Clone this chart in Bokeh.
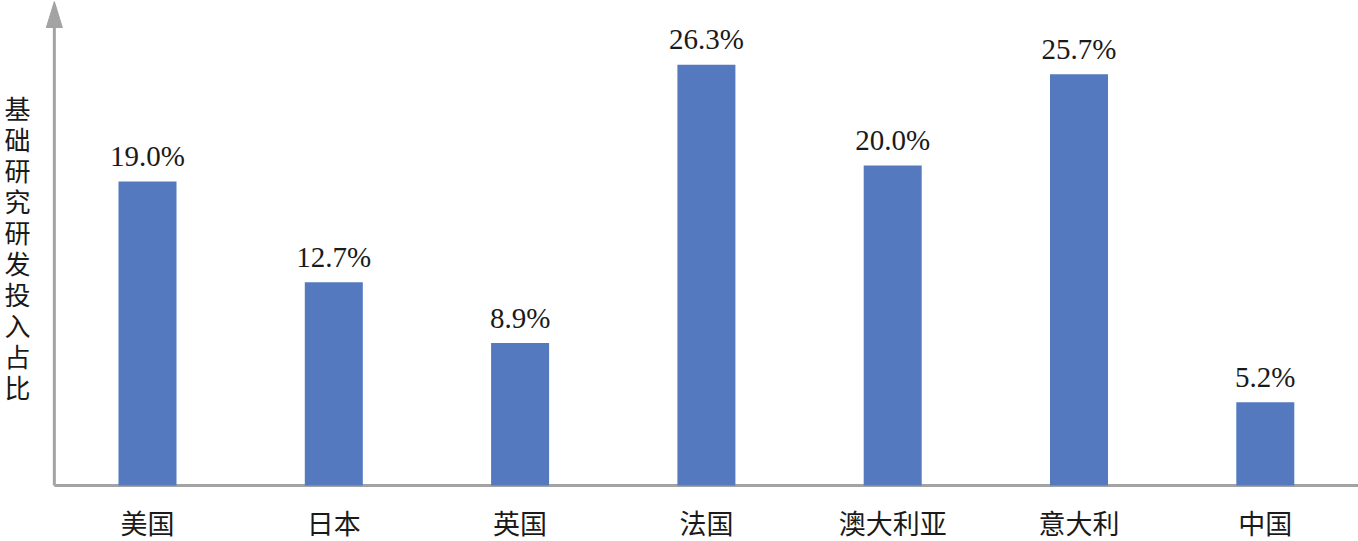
from bokeh.plotting import figure
from bokeh.models import Range1d, ColumnDataSource
from bokeh.core.properties import value
from bokeh.embed import file_html
from bokeh.resources import INLINE

countries = ["美国", "日本", "英国", "法国", "澳大利亚", "意大利", "中国"]
shares = [19.0, 12.7, 8.9, 26.3, 20.0, 25.7, 5.2]
y_title = "基础研究研发投入占比"

SERIF = "'Liberation Serif', 'Times New Roman', 'Noto Sans CJK SC'"
CJK = "'Noto Sans CJK SC'"
BAR = "#5479BF"
GRAY = "#A3A3A3"
TXT = "#1a1a1a"

W, H = 1358, 541
PX_X = 186.3          # pixels per category
PX_Y = 16.0           # pixels per percentage point
X0_PX = 147           # first category centre (px from left)
AX_PX = 485           # x-axis (px from top)

x_start = -X0_PX / PX_X
x_end = (W - X0_PX) / PX_X
y_end = AX_PX / PX_Y
y_start = -(H - AX_PX) / PX_Y

xs = list(range(len(countries)))
src = ColumnDataSource(dict(
    x=xs,
    top=shares,
    lab_y=[v + 1.6 for v in shares],
    lab=[f"{v:.1f}%" for v in shares],
    cat=countries,
    cat_y=[-37 / PX_Y] * len(countries),
))

p = figure(width=W, height=H, output_backend="svg", toolbar_location=None,
           x_range=Range1d(x_start, x_end), y_range=Range1d(y_start, y_end),
           min_border=0, min_border_left=0, min_border_right=0,
           min_border_top=0, min_border_bottom=0)
p.outline_line_color = None
p.grid.visible = False
p.axis.visible = False
p.background_fill_color = "white"

# axes: x-axis line and y-axis line with arrow head
ax_left = -0.5
p.segment(x0=[ax_left], y0=[0], x1=[x_end], y1=[0], line_color=GRAY, line_width=3)
head_base = (AX_PX - 27) / PX_Y
head_tip = (AX_PX - 1) / PX_Y
p.segment(x0=[ax_left], y0=[0], x1=[ax_left], y1=[head_base], line_color=GRAY, line_width=3)
hw = 8 / PX_X
p.patch(x=[ax_left - hw, ax_left, ax_left + hw], y=[head_base, head_tip, head_base],
        fill_color=GRAY, line_color=GRAY, line_width=1)

# bars and value labels
p.vbar(x="x", top="top", width=58 / PX_X, source=src, fill_color=BAR, line_color=None)
p.text(x="x", y="lab_y", text="lab", source=src, text_align="center",
       text_baseline="middle", text_font=value(SERIF), text_font_size="29px",
       text_color=TXT)

# category labels
p.text(x="x", y="cat_y", text="cat", source=src, text_align="center",
       text_baseline="middle", text_font=value(CJK), text_font_size="27px",
       text_color=TXT)

# vertical y-axis title (stacked characters)
chars = list(y_title)
tx = (17 - X0_PX) / PX_X
ty = [(AX_PX - 107 - 31 * i) / PX_Y for i in range(len(chars))]
p.text(x=[tx] * len(chars), y=ty, text=chars, text_align="center",
       text_baseline="middle", text_font=value(CJK), text_font_size="26px",
       text_color=TXT)

open("out.html", "w").write(file_html(p, INLINE))
